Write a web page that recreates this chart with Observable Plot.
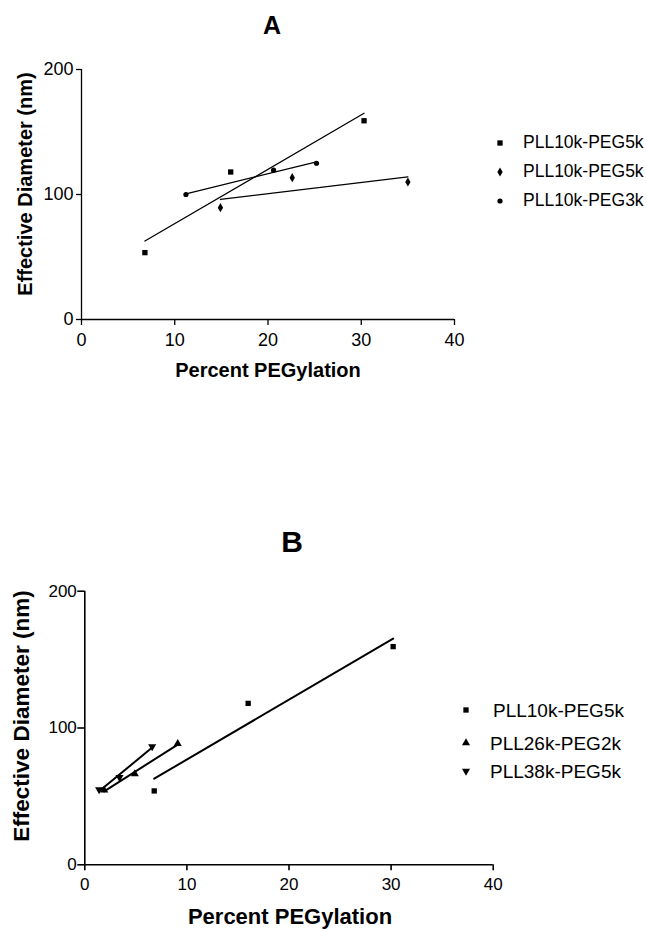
<!DOCTYPE html>
<html>
<head>
<meta charset="utf-8">
<script src="https://cdn.jsdelivr.net/npm/d3@7"></script>
<script src="https://cdn.jsdelivr.net/npm/@observablehq/plot@0.6"></script>
<style>
  body { margin: 0; background: #fff; }
  #page { position: relative; width: 646px; height: 929px; overflow: hidden; background: #fff;
          font-family: "Liberation Sans", Arial, sans-serif; color: #000; }
  .abs { position: absolute; white-space: nowrap; line-height: 1; transform: translate(-50%, -50%); }
  .bold { font-weight: bold; }
  .rot { transform: translate(-50%, -50%) rotate(-90deg); }
  .leg { position: absolute; white-space: nowrap; line-height: 1; transform: translateY(-50%); }
</style>
</head>
<body>
<div id="page"></div>
<script>
// ---------- Data ----------
const xTicks = [0, 10, 20, 30, 40];
const yTicks = [0, 100, 200];
const xLabel = "Percent PEGylation";
const yLabel = "Effective Diameter (nm)";

// Panel A
const seriesA = ["PLL10k-PEG5k", "PLL10k-PEG5k", "PLL10k-PEG3k"];
const a1x = [6.8, 16.0, 30.3], a1y = [53.5, 118, 159];   // squares
const a2x = [14.9, 22.6, 35.0], a2y = [89.5, 113.5, 110]; // diamonds
const a3x = [11.2, 20.6, 25.2], a3y = [100, 119.5, 125];  // circles

// Panel B
const seriesB = ["PLL10k-PEG5k", "PLL26k-PEG2k", "PLL38k-PEG5k"];
const b1x = [6.8, 16.0, 30.2], b1y = [54, 118, 159.5];    // squares
const b2x = [1.9, 4.9, 9.1], b2y = [54.5, 66.5, 88.5];    // triangles
const b3x = [1.4, 3.4, 6.6], b3y = [55, 64, 86.5];        // inverted triangles

// ---------- Symbols ----------
const sqrt3 = Math.sqrt(3);
const triangleDown = {
  draw(context, size) {
    const y = -Math.sqrt(size / (sqrt3 * 3));
    context.moveTo(0, -y * 2);
    context.lineTo(-sqrt3 * y, y);
    context.lineTo(sqrt3 * y, y);
    context.closePath();
  }
};
const symA = [d3.symbolSquare, d3.symbolDiamond, d3.symbolCircle];
const rA = [3, 2.8, 2.6];
const symB = [d3.symbolSquare, d3.symbolTriangle, triangleDown];
const rB = [3, 3, 3];

function rows(xs, ys, key) { return xs.map((x, i) => ({x, y: ys[i], key})); }
const dataA = [rows(a1x, a1y, 0), rows(a2x, a2y, 1), rows(a3x, a3y, 2)];
const dataB = [rows(b1x, b1y, 0), rows(b2x, b2y, 1), rows(b3x, b3y, 2)];

const page = document.getElementById("page");

function panel(cfg) {
  const marks = [
    Plot.ruleY([0], {stroke: "black", strokeWidth: cfg.axisW}),
    Plot.ruleX([0], {stroke: "black", strokeWidth: cfg.axisW}),
    Plot.axisX({ticks: xTicks, tickSize: cfg.xTickSize, tickPadding: cfg.xTickPad, label: null,
                strokeWidth: cfg.axisW}),
    Plot.axisY({ticks: yTicks, tickSize: cfg.yTickSize, tickPadding: cfg.yTickPad, label: null,
                strokeWidth: cfg.axisW})
  ];
  cfg.data.forEach((d, i) => {
    marks.push(Plot.linearRegressionY(d, {x: "x", y: "y", ci: 0, stroke: "black", strokeWidth: cfg.lineW}));
    marks.push(Plot.dot(d, {x: "x", y: "y", symbol: cfg.syms[i], r: cfg.rs[i], fill: "black", stroke: "none"}));
  });
  const svg = Plot.plot({
    width: 646, height: cfg.height,
    marginLeft: cfg.ml, marginRight: cfg.mr, marginTop: cfg.mt, marginBottom: cfg.mb,
    x: {domain: [0, 40]},
    y: {domain: [0, 200]},
    style: {fontFamily: '"Liberation Sans", Arial, sans-serif', fontSize: cfg.tickFont + "px",
            color: "black", background: "transparent", overflow: "visible"},
    marks
  });
  svg.style.position = "absolute";
  svg.style.left = "0px";
  svg.style.top = cfg.top + "px";
  page.appendChild(svg);
}

function addText(txt, x, y, size, cls) {
  const d = document.createElement("div");
  d.className = "abs " + (cls || "");
  d.style.left = x + "px"; d.style.top = y + "px"; d.style.fontSize = size + "px";
  d.textContent = txt;
  page.appendChild(d);
}

function addLegend(names, syms, rs, ys, mx, tx, size) {
  names.forEach((name, i) => {
    const s = d3.create("svg").attr("width", 16).attr("height", 16)
      .style("position", "absolute").style("left", (mx - 8) + "px").style("top", (ys[i] - 8) + "px");
    s.append("path").attr("transform", "translate(8,8)")
      .attr("d", d3.symbol(syms[i], Math.PI * rs[i] * rs[i])()).attr("fill", "black");
    page.appendChild(s.node());
    const d = document.createElement("div");
    d.className = "leg";
    d.style.left = tx[i] + "px"; d.style.top = ys[i] + "px"; d.style.fontSize = size + "px";
    d.textContent = name;
    page.appendChild(d);
  });
}

// Panel A
panel({top: 0, height: 400, ml: 81, mr: 192, mt: 69, mb: 81, data: dataA, syms: symA, rs: rA,
       axisW: 1.3, lineW: 1.3, xTickSize: 6, xTickPad: 8, yTickSize: 5, yTickPad: 3, tickFont: 18});
addText("A", 272, 25, 25, "bold");
addText(yLabel, 25, 184, 20, "bold rot");
addText(xLabel, 268, 370, 20, "bold");
addLegend(seriesA, symA, rA, [143, 172, 201], 500, [523, 523, 523], 17.5);

// Panel B
panel({top: 470, height: 459, ml: 84.3, mr: 153.3, mt: 120.7, mb: 64.7, data: dataB, syms: symB, rs: rB,
       axisW: 1.6, lineW: 2, xTickSize: 6, xTickPad: 7, yTickSize: 7, yTickPad: 1, tickFont: 17});
addText("B", 292, 542, 30, "bold");
addText(yLabel, 22, 716, 22.5, "bold rot");
addText(xLabel, 290, 917, 22, "bold");
addLegend(seriesB, symB, rB, [710, 743, 771], 466, [493, 490, 490], 19);
</script>
</body>
</html>
